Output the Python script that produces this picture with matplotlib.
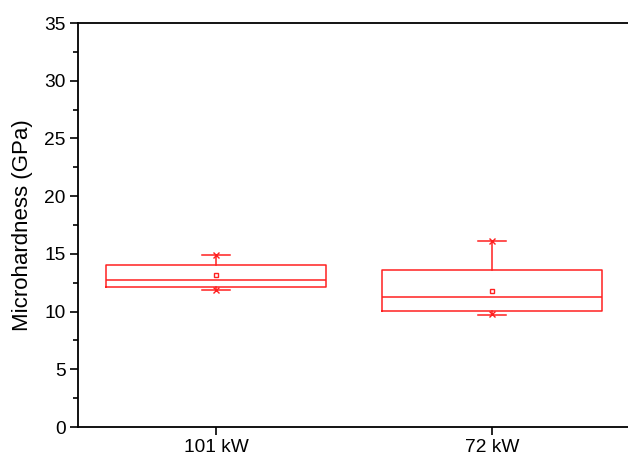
import matplotlib
matplotlib.use("Agg")
import matplotlib.pyplot as plt
from matplotlib.ticker import MultipleLocator

plt.rcParams['font.family'] = ['Liberation Sans', 'DejaVu Sans']

# box summary
labels = ['101 kW', '72 kW']
q1 = [12.1, 10.08]
med = [12.76, 11.29]
q3 = [14.06, 13.58]
whislo = [11.87, 9.73]
whishi = [14.88, 16.12]
means = [13.17, 11.76]
mins = [11.9, 9.75]
maxs = [14.9, 16.1]

red = '#ff2020'

stats = []
for i in range(len(labels)):
	stats.append(dict(label=labels[i], q1=q1[i], med=med[i], q3=q3[i],
		whislo=whislo[i], whishi=whishi[i], mean=means[i], fliers=[]))

fig = plt.figure(figsize=(6.28, 4.58), dpi=100)
ax = fig.add_axes([78/628, 31/458, 552/628, 404/458])

pos = [1, 2]
ax.bxp(stats, positions=pos, widths=0.8, showmeans=True, patch_artist=False,
	boxprops=dict(color=red, lw=1.1),
	medianprops=dict(color=red, lw=1.1),
	whiskerprops=dict(color=red, lw=1.1),
	capprops=dict(color=red, lw=1.1),
	capwidths=0.1,
	meanprops=dict(marker='s', markersize=3.5, markerfacecolor='none',
		markeredgecolor=red, markeredgewidth=1))
ax.plot(pos, mins, 'x', color=red, ms=5, mew=1)
ax.plot(pos, maxs, 'x', color=red, ms=5, mew=1)

ax.set_xlim(0.5, 2.5)
ax.set_ylim(0, 35)
ax.yaxis.set_major_locator(MultipleLocator(5))
ax.yaxis.set_minor_locator(MultipleLocator(2.5))
ax.set_xticks(pos)
ax.set_xticklabels(labels)
ax.tick_params(axis='both', direction='out', labelsize=13.8, width=1.2, length=6, pad=3)
ax.tick_params(axis='y', which='minor', direction='out', width=1.2, length=3.5)
for s in ax.spines.values():
	s.set_linewidth(1.3)
ax.set_ylabel('Microhardness (GPa)', fontsize=16, labelpad=8)

fig.savefig('out.png', dpi=100)
